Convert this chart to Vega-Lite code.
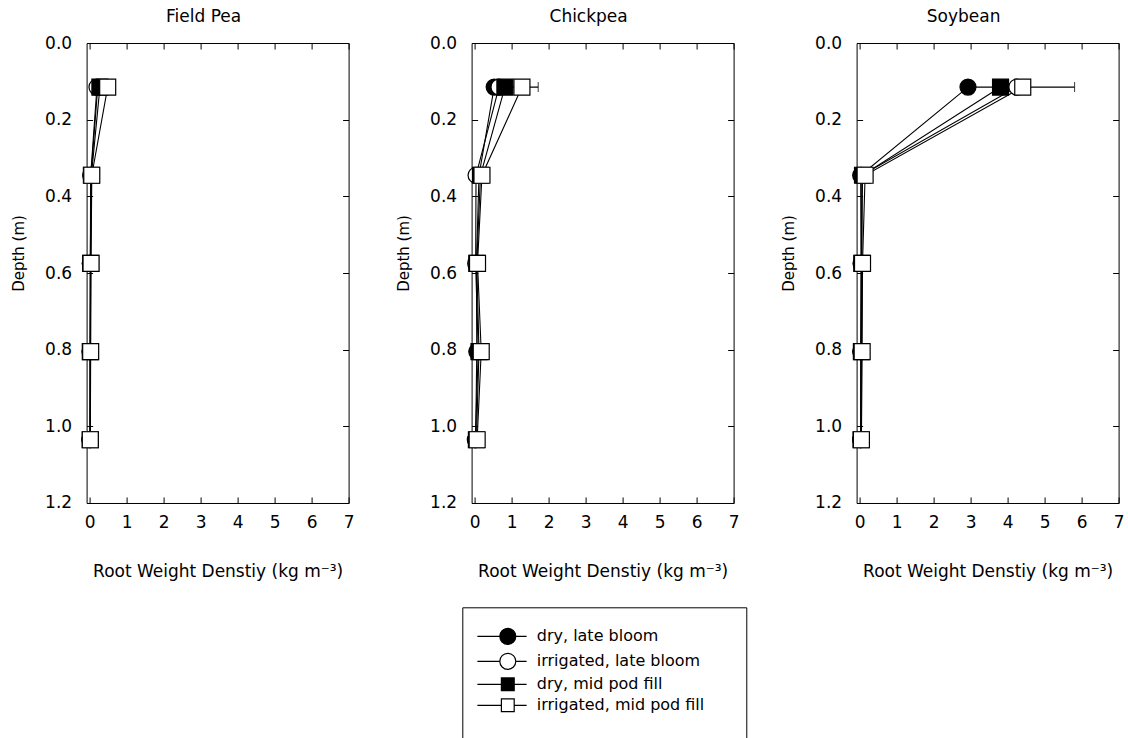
{
  "$schema": "https://vega.github.io/schema/vega-lite/v6.json",
  "background": "white",
  "padding": {"left": 10.6, "top": 7, "right": 5, "bottom": 5},
  "config": {
    "font": "DejaVu Sans",
    "view": {"stroke": "black", "strokeWidth": 1},
    "axis": {
      "domain": false, "grid": false, "tickSize": -6, "tickColor": "black", "tickWidth": 1,
      "labelColor": "black", "labelFont": "DejaVu Sans", "labelFontSize": 17, "labelPadding": 18,
      "labelFlush": false, "labelOverlap": false,
      "titleColor": "black", "titleFont": "DejaVu Sans", "titleFontWeight": "normal", "titleFontSize": 17, "titlePadding": 33
    },
    "axisLeft": {"labelPadding": 21, "titleFontSize": 15, "titlePadding": 18, "titleY": 210},
    "title": {"fontSize": 17, "fontWeight": "normal", "font": "DejaVu Sans", "color": "black", "offset": 8, "anchor": "middle", "frame": "group"}
  },
  "datasets": {
    "roots": [
      {"crop": "Field Pea", "group": "dry, late bloom", "depth": 0.115, "rwd": 0.22},
      {"crop": "Field Pea", "group": "dry, late bloom", "depth": 0.345, "rwd": 0.04},
      {"crop": "Field Pea", "group": "dry, late bloom", "depth": 0.575, "rwd": 0.02},
      {"crop": "Field Pea", "group": "dry, late bloom", "depth": 0.805, "rwd": 0.02},
      {"crop": "Field Pea", "group": "dry, late bloom", "depth": 1.035, "rwd": 0.01},
      {"crop": "Field Pea", "group": "irrigated, late bloom", "depth": 0.115, "rwd": 0.2},
      {"crop": "Field Pea", "group": "irrigated, late bloom", "depth": 0.345, "rwd": 0.03},
      {"crop": "Field Pea", "group": "irrigated, late bloom", "depth": 0.575, "rwd": 0.02},
      {"crop": "Field Pea", "group": "irrigated, late bloom", "depth": 0.805, "rwd": 0.01},
      {"crop": "Field Pea", "group": "irrigated, late bloom", "depth": 1.035, "rwd": 0.01},
      {"crop": "Field Pea", "group": "dry, mid pod fill", "depth": 0.115, "rwd": 0.28},
      {"crop": "Field Pea", "group": "dry, mid pod fill", "depth": 0.345, "rwd": 0.05},
      {"crop": "Field Pea", "group": "dry, mid pod fill", "depth": 0.575, "rwd": 0.03},
      {"crop": "Field Pea", "group": "dry, mid pod fill", "depth": 0.805, "rwd": 0.02},
      {"crop": "Field Pea", "group": "dry, mid pod fill", "depth": 1.035, "rwd": 0.02},
      {"crop": "Field Pea", "group": "irrigated, mid pod fill", "depth": 0.115, "rwd": 0.49},
      {"crop": "Field Pea", "group": "irrigated, mid pod fill", "depth": 0.345, "rwd": 0.06},
      {"crop": "Field Pea", "group": "irrigated, mid pod fill", "depth": 0.575, "rwd": 0.04},
      {"crop": "Field Pea", "group": "irrigated, mid pod fill", "depth": 0.805, "rwd": 0.03},
      {"crop": "Field Pea", "group": "irrigated, mid pod fill", "depth": 1.035, "rwd": 0.02},
      {"crop": "Chickpea", "group": "dry, late bloom", "depth": 0.115, "rwd": 0.53},
      {"crop": "Chickpea", "group": "dry, late bloom", "depth": 0.345, "rwd": 0.12},
      {"crop": "Chickpea", "group": "dry, late bloom", "depth": 0.575, "rwd": 0.05},
      {"crop": "Chickpea", "group": "dry, late bloom", "depth": 0.805, "rwd": 0.06},
      {"crop": "Chickpea", "group": "dry, late bloom", "depth": 1.035, "rwd": 0.03},
      {"crop": "Chickpea", "group": "irrigated, late bloom", "depth": 0.115, "rwd": 0.66},
      {"crop": "Chickpea", "group": "irrigated, late bloom", "depth": 0.345, "rwd": 0.04},
      {"crop": "Chickpea", "group": "irrigated, late bloom", "depth": 0.575, "rwd": 0.03},
      {"crop": "Chickpea", "group": "irrigated, late bloom", "depth": 0.805, "rwd": 0.1},
      {"crop": "Chickpea", "group": "irrigated, late bloom", "depth": 1.035, "rwd": 0.02},
      {"crop": "Chickpea", "group": "dry, mid pod fill", "depth": 0.115, "rwd": 0.82},
      {"crop": "Chickpea", "group": "dry, mid pod fill", "depth": 0.345, "rwd": 0.16},
      {"crop": "Chickpea", "group": "dry, mid pod fill", "depth": 0.575, "rwd": 0.06},
      {"crop": "Chickpea", "group": "dry, mid pod fill", "depth": 0.805, "rwd": 0.12},
      {"crop": "Chickpea", "group": "dry, mid pod fill", "depth": 1.035, "rwd": 0.05},
      {"crop": "Chickpea", "group": "irrigated, mid pod fill", "depth": 0.115, "rwd": 1.28},
      {"crop": "Chickpea", "group": "irrigated, mid pod fill", "depth": 0.345, "rwd": 0.2},
      {"crop": "Chickpea", "group": "irrigated, mid pod fill", "depth": 0.575, "rwd": 0.08},
      {"crop": "Chickpea", "group": "irrigated, mid pod fill", "depth": 0.805, "rwd": 0.18},
      {"crop": "Chickpea", "group": "irrigated, mid pod fill", "depth": 1.035, "rwd": 0.07},
      {"crop": "Soybean", "group": "dry, late bloom", "depth": 0.115, "rwd": 2.93},
      {"crop": "Soybean", "group": "dry, late bloom", "depth": 0.345, "rwd": 0.03},
      {"crop": "Soybean", "group": "dry, late bloom", "depth": 0.575, "rwd": 0.04},
      {"crop": "Soybean", "group": "dry, late bloom", "depth": 0.805, "rwd": 0.03},
      {"crop": "Soybean", "group": "dry, late bloom", "depth": 1.035, "rwd": 0.03},
      {"crop": "Soybean", "group": "irrigated, late bloom", "depth": 0.115, "rwd": 4.25},
      {"crop": "Soybean", "group": "irrigated, late bloom", "depth": 0.345, "rwd": 0.06},
      {"crop": "Soybean", "group": "irrigated, late bloom", "depth": 0.575, "rwd": 0.05},
      {"crop": "Soybean", "group": "irrigated, late bloom", "depth": 0.805, "rwd": 0.04},
      {"crop": "Soybean", "group": "irrigated, late bloom", "depth": 1.035, "rwd": 0.03},
      {"crop": "Soybean", "group": "dry, mid pod fill", "depth": 0.115, "rwd": 3.81},
      {"crop": "Soybean", "group": "dry, mid pod fill", "depth": 0.345, "rwd": 0.08},
      {"crop": "Soybean", "group": "dry, mid pod fill", "depth": 0.575, "rwd": 0.06},
      {"crop": "Soybean", "group": "dry, mid pod fill", "depth": 0.805, "rwd": 0.05},
      {"crop": "Soybean", "group": "dry, mid pod fill", "depth": 1.035, "rwd": 0.04},
      {"crop": "Soybean", "group": "irrigated, mid pod fill", "depth": 0.115, "rwd": 4.41},
      {"crop": "Soybean", "group": "irrigated, mid pod fill", "depth": 0.345, "rwd": 0.15},
      {"crop": "Soybean", "group": "irrigated, mid pod fill", "depth": 0.575, "rwd": 0.08},
      {"crop": "Soybean", "group": "irrigated, mid pod fill", "depth": 0.805, "rwd": 0.07},
      {"crop": "Soybean", "group": "irrigated, mid pod fill", "depth": 1.035, "rwd": 0.05}
    ],
    "errs": [
      {"crop": "Chickpea", "group": "irrigated, mid pod fill", "depth": 0.115, "lo": 0.84, "hi": 1.72},
      {"crop": "Soybean", "group": "irrigated, mid pod fill", "depth": 0.115, "lo": 3.01, "hi": 5.81}
    ]
  },
  "spacing": 123,
  "bounds": "flush",
  "resolve": {
    "scale": {"fill": "independent", "shape": "independent"},
    "legend": {"fill": "independent", "shape": "independent"}
  },
  "hconcat": [
    {
      "title": {"text": "Field Pea", "dx": -14},
      "width": 262, "height": 460,
      "layer": [
        {
          "data": {"name": "roots"},
          "transform": [{"filter": "datum.crop === 'Field Pea'"}],
          "mark": {"type": "line", "color": "black", "strokeWidth": 1.1},
          "encoding": {
            "x": {"field": "rwd", "type": "quantitative", "scale": {"domain": [-0.08, 7], "nice": false, "zero": false}, "axis": {"orient": "top", "values": [0,1,2,3,4,5,6,7], "labels": false, "title": null}},
            "y": {"field": "depth", "type": "quantitative", "scale": {"domain": [0, 1.2], "reverse": true, "nice": false, "zero": false}, "axis": {"orient": "right", "values": [0,0.2,0.4,0.6,0.8,1.0,1.2], "labels": false, "title": null}},
            "detail": {"field": "group", "type": "nominal"},
            "order": {"field": "depth", "type": "quantitative"}
          }
        },
        {
          "data": {"name": "roots"},
          "transform": [{"filter": "datum.crop === 'Field Pea'"}],
          "mark": {"type": "point", "filled": true, "stroke": "black", "strokeWidth": 1.2, "size": 256, "opacity": 1},
          "encoding": {
            "x": {"field": "rwd", "type": "quantitative", "axis": {"orient": "bottom", "values": [0,1,2,3,4,5,6,7], "format": "d", "title": "Root Weight Denstiy (kg m⁻³)"}},
            "y": {"field": "depth", "type": "quantitative", "axis": {"orient": "left", "values": [0,0.2,0.4,0.6,0.8,1.0,1.2], "format": ".1f", "title": "Depth (m)"}},
            "shape": {"field": "group", "type": "nominal", "scale": {"domain": ["dry, mid pod fill", "irrigated, mid pod fill", "dry, late bloom", "irrigated, late bloom"], "range": ["square", "square", "circle", "circle"]}, "legend": null},
            "fill": {"field": "group", "type": "nominal", "scale": {"domain": ["dry, late bloom", "irrigated, late bloom", "dry, mid pod fill", "irrigated, mid pod fill"], "range": ["black", "white", "black", "white"]}, "legend": null}
          }
        }
      ],
      "resolve": {"axis": {"x": "independent", "y": "independent"}}
    },
    {
      "title": {"text": "Chickpea", "dx": -14},
      "width": 262, "height": 460,
      "layer": [
        {
          "data": {"name": "errs"},
          "transform": [{"filter": "datum.crop === 'Chickpea'"}],
          "mark": {"type": "rule", "color": "black", "strokeWidth": 1.1},
          "encoding": {
            "x": {"field": "lo", "type": "quantitative", "scale": {"domain": [-0.08, 7], "nice": false, "zero": false}, "axis": null},
            "x2": {"field": "hi"},
            "y": {"field": "depth", "type": "quantitative", "scale": {"domain": [0, 1.2], "reverse": true, "nice": false, "zero": false}, "axis": null}
          }
        },
        {
          "data": {"name": "errs"},
          "transform": [{"filter": "datum.crop === 'Chickpea'"}],
          "mark": {"type": "tick", "orient": "vertical", "color": "black", "size": 10, "thickness": 1.1},
          "encoding": {
            "x": {"field": "hi", "type": "quantitative", "axis": null},
            "y": {"field": "depth", "type": "quantitative", "axis": null}
          }
        },
        {
          "data": {"name": "errs"},
          "transform": [{"filter": "datum.crop === 'Chickpea'"}],
          "mark": {"type": "tick", "orient": "vertical", "color": "black", "size": 10, "thickness": 1.1},
          "encoding": {
            "x": {"field": "lo", "type": "quantitative", "axis": null},
            "y": {"field": "depth", "type": "quantitative", "axis": null}
          }
        },
        {
          "data": {"name": "roots"},
          "transform": [{"filter": "datum.crop === 'Chickpea'"}],
          "mark": {"type": "line", "color": "black", "strokeWidth": 1.1},
          "encoding": {
            "x": {"field": "rwd", "type": "quantitative", "axis": {"orient": "top", "values": [0,1,2,3,4,5,6,7], "labels": false, "title": null}},
            "y": {"field": "depth", "type": "quantitative", "axis": {"orient": "right", "values": [0,0.2,0.4,0.6,0.8,1.0,1.2], "labels": false, "title": null}},
            "detail": {"field": "group", "type": "nominal"},
            "order": {"field": "depth", "type": "quantitative"}
          }
        },
        {
          "data": {"name": "roots"},
          "transform": [{"filter": "datum.crop === 'Chickpea'"}],
          "mark": {"type": "point", "filled": true, "stroke": "black", "strokeWidth": 1.2, "size": 256, "opacity": 1},
          "encoding": {
            "x": {"field": "rwd", "type": "quantitative", "axis": {"orient": "bottom", "values": [0,1,2,3,4,5,6,7], "format": "d", "title": "Root Weight Denstiy (kg m⁻³)"}},
            "y": {"field": "depth", "type": "quantitative", "axis": {"orient": "left", "values": [0,0.2,0.4,0.6,0.8,1.0,1.2], "format": ".1f", "title": "Depth (m)"}},
            "shape": {"field": "group", "type": "nominal", "scale": {"domain": ["dry, mid pod fill", "irrigated, mid pod fill", "dry, late bloom", "irrigated, late bloom"], "range": ["square", "square", "circle", "circle"]}, "legend": null},
            "fill": {
              "field": "group", "type": "nominal",
              "scale": {"domain": ["dry, late bloom", "irrigated, late bloom", "dry, mid pod fill", "irrigated, mid pod fill"], "range": ["black", "white", "black", "white"]},
              "legend": {
                "orient": "none", "legendX": -9.3, "legendY": 564.3,
                "title": "\u00a0", "titleOrient": "bottom", "titleFontSize": 16, "titlePadding": 5,
                "strokeColor": "black", "fillColor": "white", "padding": 20,
                "labelFontSize": 16, "labelFont": "DejaVu Sans", "labelColor": "black", "labelLimit": 400,
                "symbolSize": 256, "symbolOffset": 16.5, "labelOffset": 20, "rowPadding": 3,
                "symbolStrokeColor": "black", "symbolStrokeWidth": 1.2,
                "encoding": {
                  "symbols": {
                    "shape": {"value": {"expr": "(datum.value === 'dry, late bloom' || datum.value === 'irrigated, late bloom') ? 'M-3.8,0L-1,0M1,0L2.35,0M-1,0A1,1,0,1,1,1,0A1,1,0,1,1,-1,0ZM27,0' : 'M-3.8,0L-0.8,0M0.8,0L2.35,0M-0.8,-0.8L0.8,-0.8L0.8,0.8L-0.8,0.8ZM27,0'"}},
                    "stroke": {"value": "black"},
                    "strokeWidth": {"value": 1.2}
                  }
                }
              }
            }
          }
        }
      ],
      "resolve": {"axis": {"x": "independent", "y": "independent"}}
    },
    {
      "title": {"text": "Soybean", "dx": -24},
      "width": 262, "height": 460,
      "layer": [
        {
          "data": {"name": "errs"},
          "transform": [{"filter": "datum.crop === 'Soybean'"}],
          "mark": {"type": "rule", "color": "black", "strokeWidth": 1.1},
          "encoding": {
            "x": {"field": "lo", "type": "quantitative", "scale": {"domain": [-0.08, 7], "nice": false, "zero": false}, "axis": null},
            "x2": {"field": "hi"},
            "y": {"field": "depth", "type": "quantitative", "scale": {"domain": [0, 1.2], "reverse": true, "nice": false, "zero": false}, "axis": null}
          }
        },
        {
          "data": {"name": "errs"},
          "transform": [{"filter": "datum.crop === 'Soybean'"}],
          "mark": {"type": "tick", "orient": "vertical", "color": "black", "size": 10, "thickness": 1.1},
          "encoding": {
            "x": {"field": "hi", "type": "quantitative", "axis": null},
            "y": {"field": "depth", "type": "quantitative", "axis": null}
          }
        },
        {
          "data": {"name": "errs"},
          "transform": [{"filter": "datum.crop === 'Soybean'"}],
          "mark": {"type": "tick", "orient": "vertical", "color": "black", "size": 10, "thickness": 1.1},
          "encoding": {
            "x": {"field": "lo", "type": "quantitative", "axis": null},
            "y": {"field": "depth", "type": "quantitative", "axis": null}
          }
        },
        {
          "data": {"name": "roots"},
          "transform": [{"filter": "datum.crop === 'Soybean'"}],
          "mark": {"type": "line", "color": "black", "strokeWidth": 1.1},
          "encoding": {
            "x": {"field": "rwd", "type": "quantitative", "axis": {"orient": "top", "values": [0,1,2,3,4,5,6,7], "labels": false, "title": null}},
            "y": {"field": "depth", "type": "quantitative", "axis": {"orient": "right", "values": [0,0.2,0.4,0.6,0.8,1.0,1.2], "labels": false, "title": null}},
            "detail": {"field": "group", "type": "nominal"},
            "order": {"field": "depth", "type": "quantitative"}
          }
        },
        {
          "data": {"name": "roots"},
          "transform": [{"filter": "datum.crop === 'Soybean'"}],
          "mark": {"type": "point", "filled": true, "stroke": "black", "strokeWidth": 1.2, "size": 256, "opacity": 1},
          "encoding": {
            "x": {"field": "rwd", "type": "quantitative", "axis": {"orient": "bottom", "values": [0,1,2,3,4,5,6,7], "format": "d", "title": "Root Weight Denstiy (kg m⁻³)"}},
            "y": {"field": "depth", "type": "quantitative", "axis": {"orient": "left", "values": [0,0.2,0.4,0.6,0.8,1.0,1.2], "format": ".1f", "title": "Depth (m)"}},
            "shape": {"field": "group", "type": "nominal", "scale": {"domain": ["dry, mid pod fill", "irrigated, mid pod fill", "dry, late bloom", "irrigated, late bloom"], "range": ["square", "square", "circle", "circle"]}, "legend": null},
            "fill": {"field": "group", "type": "nominal", "scale": {"domain": ["dry, late bloom", "irrigated, late bloom", "dry, mid pod fill", "irrigated, mid pod fill"], "range": ["black", "white", "black", "white"]}, "legend": null}
          }
        }
      ],
      "resolve": {"axis": {"x": "independent", "y": "independent"}}
    }
  ]
}
